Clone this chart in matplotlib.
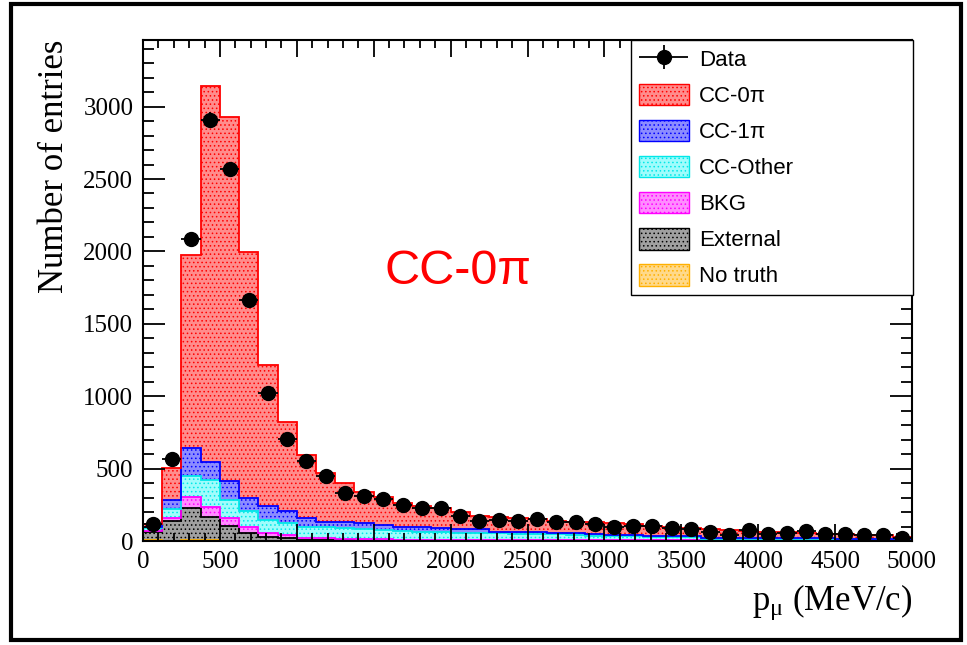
import numpy as np
import matplotlib
matplotlib.use("Agg")
import matplotlib.pyplot as plt
from matplotlib.patches import Patch, Rectangle
from matplotlib.ticker import MultipleLocator
from matplotlib.container import ErrorbarContainer
from matplotlib.legend_handler import HandlerErrorbar

plt.rcParams["hatch.linewidth"] = 0.6
plt.rcParams["mathtext.fontset"] = "custom"
plt.rcParams["mathtext.rm"] = "Liberation Serif"
plt.rcParams["mathtext.it"] = "Liberation Serif:italic"

# 40 bins of 125 MeV/c from 0 to 5000
bin_edges = np.arange(0, 5001, 125)

data = [117, 566, 2083, 2910, 2566, 1662, 1021, 703, 552, 448,
        331, 310, 290, 248, 225, 225, 176, 135, 148, 138,
        152, 131, 131, 117, 97, 103, 103, 90, 83, 62,
        41, 76, 48, 55, 69, 48, 48, 41, 41, 18]

# stack components, bottom to top
no_truth = [4, 3, 5, 4, 2, 1, 1, 0, 0, 0,
            0, 0, 0, 0, 0, 0, 0, 0, 0, 0,
            0, 0, 0, 0, 0, 0, 0, 0, 0, 0,
            0, 0, 0, 0, 0, 0, 0, 0, 0, 0]
external = [55, 135, 222, 162, 100, 53, 27, 20, 8, 6,
            4, 3, 3, 3, 2, 2, 2, 2, 2, 2,
            2, 2, 2, 2, 2, 2, 2, 2, 2, 2,
            2, 2, 2, 2, 2, 2, 2, 2, 2, 2]
bkg = [12, 21, 75, 68, 56, 42, 27, 20, 14, 12,
       10, 9, 8, 7, 6, 6, 5, 5, 5, 4,
       4, 4, 4, 3, 3, 3, 3, 3, 3, 2,
       2, 2, 2, 2, 2, 2, 2, 2, 2, 2]
cc_other = [21, 62, 146, 187, 125, 111, 90, 84, 78, 77,
            76, 68, 64, 60, 54, 52, 48, 48, 45, 44,
            44, 39, 32, 29, 29, 27, 25, 23, 21, 12,
            11, 10, 10, 10, 9, 8, 8, 8, 7, 6]
cc_1pi = [8, 62, 193, 124, 131, 90, 96, 83, 59, 36,
          41, 44, 35, 30, 35, 32, 30, 25, 13, 12,
          12, 13, 17, 11, 8, 8, 6, 6, 7, 8,
          7, 7, 7, 6, 7, 7, 4, 3, 3, 3]
cc_0pi = [20, 220, 1331, 2600, 2517, 1696, 973, 614, 434, 338,
          269, 214, 195, 165, 143, 138, 115, 96, 101, 97,
          88, 82, 79, 83, 82, 77, 67, 63, 57, 59,
          54, 48, 41, 42, 35, 29, 32, 26, 27, 15]

labels = ["CC-0π", "CC-1π", "CC-Other", "BKG", "External", "No truth"]

# (values, fill tint, line/hatch colour)
stack = [
    (no_truth, "#ffd98a", "#ffb000"),
    (external, "#a0a0a0", "#000000"),
    (bkg, "#ff8cff", "#ff00ff"),
    (cc_other, "#9ffcfc", "#00e8e8"),
    (cc_1pi, "#8c8cff", "#0000ff"),
    (cc_0pi, "#ff8c8c", "#ff0000"),
]

fig = plt.figure(figsize=(9.67, 6.45), dpi=100)
ax = fig.add_axes([143 / 967, 1 - 541 / 645, (912 - 143) / 967, (541 - 40) / 645])

bottom = np.zeros(len(data))
for vals, tint, col in stack:
    top = bottom + np.array(vals)
    ax.stairs(top, bin_edges, baseline=bottom, fill=True, facecolor=tint,
              edgecolor=col, hatch="....", linewidth=0, zorder=1)
    ax.stairs(top, bin_edges, baseline=None, color=col, linewidth=1.3, zorder=1.5)
    bottom = top

centers = 0.5 * (bin_edges[:-1] + bin_edges[1:])
data_arr = np.array(data)
eb = ax.errorbar(centers, data_arr, xerr=62.5, yerr=np.sqrt(data_arr), fmt="o",
                 color="black", ms=10, elinewidth=1.3, capsize=0, zorder=3)

ax.set_xlim(0, 5000)
ax.set_ylim(0, 3460)
ax.xaxis.set_major_locator(MultipleLocator(500))
ax.xaxis.set_minor_locator(MultipleLocator(100))
ax.yaxis.set_major_locator(MultipleLocator(500))
ax.yaxis.set_minor_locator(MultipleLocator(100))
ax.tick_params(which="both", direction="in", top=True, right=True, width=1.3)
ax.tick_params(axis="x", which="major", length=12, pad=7)
ax.tick_params(axis="x", which="minor", length=6)
ax.tick_params(axis="y", which="major", length=16, pad=7)
ax.tick_params(axis="y", which="minor", length=8)
for lab in ax.get_xticklabels() + ax.get_yticklabels():
    lab.set_fontfamily("Liberation Serif")
    lab.set_fontsize(18)
for sp in ax.spines.values():
    sp.set_linewidth(1.5)

fig.text(55 / 967, 1 - 40 / 645, "Number of entries", rotation=90,
         ha="center", va="top", fontsize=25, family="Liberation Serif")
fig.text(912 / 967, 1 - 610 / 645, r"$\mathrm{p_{\mu}}$ (MeV/c)",
         ha="right", va="baseline", fontsize=25, family="Liberation Serif")
fig.text(458 / 967, 1 - 272 / 645, "CC-0π", color="#ff0000", fontsize=35,
         family="Liberation Sans", ha="center", va="center")

handles = [eb]
for (vals, tint, col), lab in zip(stack[::-1], labels):
    handles.append(Patch(facecolor=tint, edgecolor=col, hatch="....", linewidth=1))
leg = ax.legend(handles, ["Data"] + labels, loc="upper left",
                bbox_to_anchor=(488 / 769, 0, 282 / 769, 1), mode="expand",
                borderaxespad=0, fancybox=False, framealpha=1, edgecolor="black",
                prop={"family": "Liberation Sans", "size": 16},
                handlelength=2.25, handleheight=1.12, labelspacing=0.57,
                handletextpad=0.45, borderpad=0.35,
                handler_map={ErrorbarContainer: HandlerErrorbar(xerr_size=1.1, yerr_size=0.55)})
leg.get_frame().set_linewidth(1.0)

# outer frame of the picture
fig.patches.append(Rectangle((11 / 967, 5 / 645), 950 / 967, 636 / 645,
                             transform=fig.transFigure, fill=False,
                             edgecolor="black", linewidth=3))

fig.savefig("out.png", dpi=100)
